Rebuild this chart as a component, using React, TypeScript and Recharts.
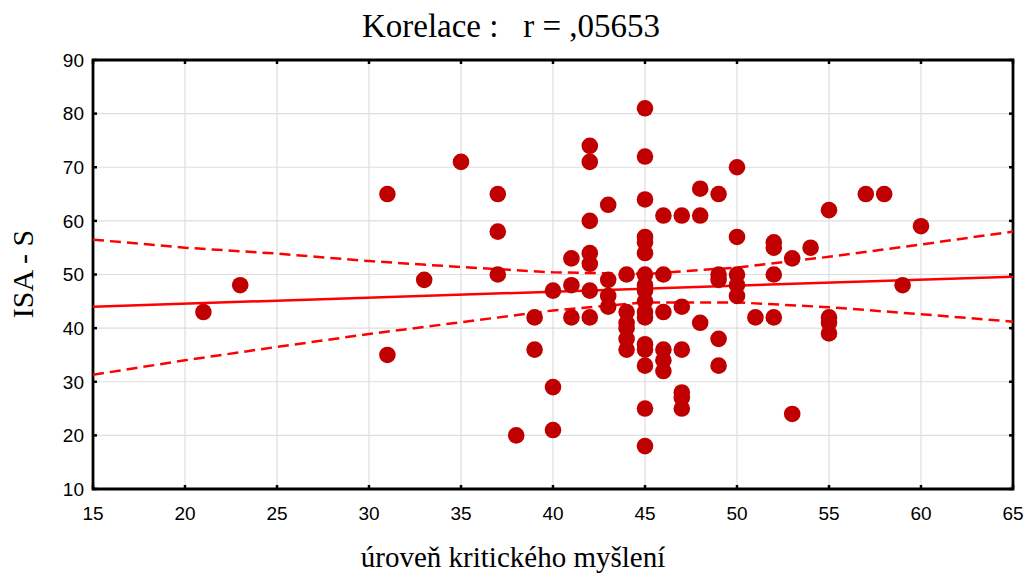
import {
  ComposedChart,
  Scatter,
  Line,
  XAxis,
  YAxis,
  CartesianGrid,
  ReferenceArea,
} from "recharts";

// raw observations (critical thinking level vs ISA - S)
const criticalThinking = [
  21, 23, 31, 31, 33, 35, 37, 37, 37, 38, 39, 39, 40, 40, 40, 41, 41, 41,
  42, 42, 42, 42, 42, 42, 42, 43, 43, 43, 43, 44, 44, 44, 44, 44, 44,
  45, 45, 45, 45, 45, 45, 45, 45, 45, 45, 45, 45, 45, 45, 45, 45, 45,
  46, 46, 46, 46, 46, 46, 47, 47, 47, 47, 47, 47, 48, 48, 48,
  49, 49, 49, 49, 49, 50, 50, 50, 50, 50, 51, 52, 52, 52, 52, 53, 53, 54,
  55, 55, 55, 55, 57, 58, 59, 60,
];
const isaScore = [
  43, 48, 65, 35, 49, 71, 65, 58, 50, 20, 42, 36, 47, 29, 21, 53, 48, 42,
  74, 71, 60, 54, 52, 47, 42, 63, 49, 46, 44, 50, 43, 41, 40, 38, 36,
  81, 72, 64, 57, 56, 54, 50, 48, 47, 45, 43, 42, 37, 36, 33, 25, 18,
  61, 50, 43, 36, 34, 32, 61, 44, 36, 28, 27, 25, 66, 61, 41,
  65, 50, 49, 38, 33, 70, 57, 50, 48, 46, 42, 56, 55, 50, 42, 53, 24, 55,
  62, 42, 41, 39, 65, 65, 48, 59,
];

// fitted line and 95% band
const fitX = [15, 65];
const fitY = [44.0, 49.6];
const bandX = [15, 20, 25, 30, 35, 40, 45, 50, 55, 60, 65];
const bandUpper = [56.5, 55.0, 53.9, 52.5, 51.4, 50.4, 50.1, 51.3, 53.3, 55.6, 58.0];
const bandLower = [31.3, 34.0, 36.5, 38.9, 41.1, 43.3, 44.8, 44.8, 43.9, 42.6, 41.2];

const xTicks = [15, 20, 25, 30, 35, 40, 45, 50, 55, 60, 65];
const yTicks = [10, 20, 30, 40, 50, 60, 70, 80, 90];

const points = criticalThinking.map((x, i) => ({ x, y: isaScore[i] }));
const fitLine = fitX.map((x, i) => ({ x, y: fitY[i] }));
const upperLine = bandX.map((x, i) => ({ x, y: bandUpper[i] }));
const lowerLine = bandX.map((x, i) => ({ x, y: bandLower[i] }));

const W = 1028;
const H = 580;
const PLOT = { left: 93, top: 60, right: 1013, bottom: 489 };
const Y_AXIS_W = 60;
const X_AXIS_H = 30;
const TICK_MARGIN_X = 17;
const TICK_MARGIN_Y = 9;
const TICK_LEN = 4;

const tickFont = { fontFamily: "Liberation Sans, Arial, sans-serif", fontSize: 19, fill: "#000" };
const serif = "Liberation Serif, Times New Roman, serif";

const XTick = ({ x, y, payload }: any) => (
  <g>
    <line x1={x} x2={x} y1={PLOT.bottom} y2={PLOT.bottom - TICK_LEN} stroke="#000" strokeWidth={2.5} />
    <line x1={x} x2={x} y1={PLOT.top} y2={PLOT.top + TICK_LEN} stroke="#000" strokeWidth={2.5} />
    <text x={x} y={y + 13.5} textAnchor="middle" {...tickFont}>
      {payload.value}
    </text>
  </g>
);

const YTick = ({ x, y, payload }: any) => (
  <g>
    <line x1={PLOT.left} x2={PLOT.left + TICK_LEN} y1={y} y2={y} stroke="#000" strokeWidth={2.5} />
    <line x1={PLOT.right} x2={PLOT.right - TICK_LEN} y1={y} y2={y} stroke="#000" strokeWidth={2.5} />
    <text x={x} y={y + 6.8} textAnchor="end" {...tickFont}>
      {payload.value}
    </text>
  </g>
);

const Dot = (p: any) => <circle cx={p.cx} cy={p.cy} r={8.3} fill="#c00000" />;

export default function App() {
  return (
    <div style={{ position: "absolute", left: 0, top: 0, width: W, height: H, background: "#fff" }}>
      <ComposedChart
        width={W}
        height={H}
        margin={{
          top: PLOT.top,
          right: W - PLOT.right,
          bottom: H - PLOT.bottom - X_AXIS_H,
          left: PLOT.left - Y_AXIS_W,
        }}
      >
        <CartesianGrid stroke="#dedede" strokeWidth={1.2} />
        <XAxis
          type="number"
          dataKey="x"
          domain={[15, 65]}
          ticks={xTicks}
          interval={0}
          height={X_AXIS_H}
          axisLine={false}
          tickLine={false}
          tickSize={0}
          tickMargin={TICK_MARGIN_X}
          tick={<XTick />}
          allowDataOverflow
        />
        <YAxis
          type="number"
          dataKey="y"
          domain={[10, 90]}
          ticks={yTicks}
          interval={0}
          width={Y_AXIS_W}
          axisLine={false}
          tickLine={false}
          tickSize={0}
          tickMargin={TICK_MARGIN_Y}
          tick={<YTick />}
          allowDataOverflow
        />
        <Line
          data={upperLine}
          dataKey="y"
          type="linear"
          stroke="#ff0000"
          strokeWidth={2.5}
          strokeDasharray="11 6"
          dot={false}
          activeDot={false}
          isAnimationActive={false}
        />
        <Line
          data={lowerLine}
          dataKey="y"
          type="linear"
          stroke="#ff0000"
          strokeWidth={2.5}
          strokeDasharray="11 6"
          dot={false}
          activeDot={false}
          isAnimationActive={false}
        />
        <Line
          data={fitLine}
          dataKey="y"
          type="linear"
          stroke="#ff0000"
          strokeWidth={2.5}
          dot={false}
          activeDot={false}
          isAnimationActive={false}
        />
        <Scatter data={points} shape={<Dot />} isAnimationActive={false} />
        <ReferenceArea x1={15} x2={65} y1={10} y2={90} fill="none" stroke="#000" strokeWidth={2.8} />
      </ComposedChart>
      <svg
        width={W}
        height={H}
        style={{ position: "absolute", left: 0, top: 0, pointerEvents: "none" }}
      >
        <text
          x={511}
          y={37}
          textAnchor="middle"
          fontFamily={serif}
          fontSize={33}
          fill="#000"
          style={{ whiteSpace: "pre" }}
          xmlSpace="preserve"
        >
          {"Korelace :   r = ,05653"}
        </text>
        <text x={513} y={567} textAnchor="middle" fontFamily={serif} fontSize={29} fill="#000">
          úroveň kritického myšlení
        </text>
        <text
          x={33}
          y={274}
          textAnchor="middle"
          fontFamily={serif}
          fontSize={30}
          fill="#000"
          transform="rotate(-90 33 274)"
        >
          ISA - S
        </text>
      </svg>
    </div>
  );
}
